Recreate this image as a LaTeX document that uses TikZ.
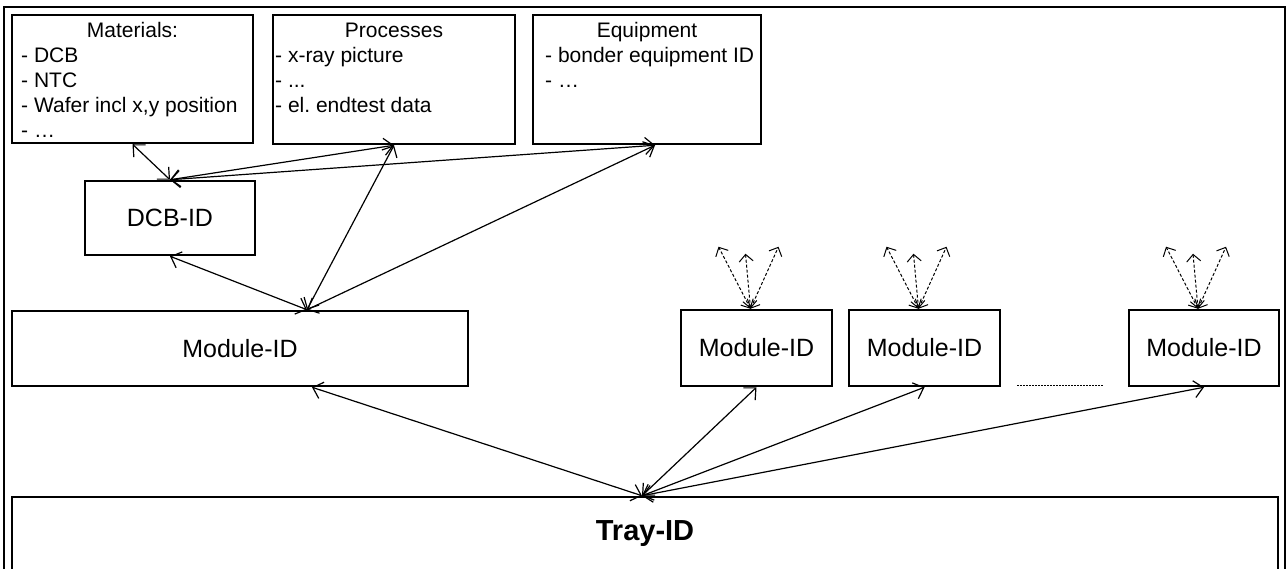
\documentclass[tikz,border=0pt]{standalone}
\usepackage{fontspec}
\setmainfont{Liberation Sans}
\usetikzlibrary{arrows.meta, positioning}
\frenchspacing

\tikzset{
  idbox/.style={draw, line width=2.5pt, inner sep=0pt, font=\fontsize{25}{30}\selectfont},
  infobox/.style={draw, line width=2.5pt, inner sep=0pt},
  infotext/.style={inner sep=0pt, font=\fontsize{21}{25}\selectfont},
  link/.style={{Straight Barb[length=9pt,width=17pt]}-{Straight Barb[length=9pt,width=17pt]}, line width=1.2pt},
  maybelink/.style={{Straight Barb[length=7pt,width=14pt]}-{Straight Barb[length=7pt,width=14pt]}, line width=1pt, dash pattern=on 3pt off 2pt},
}

\begin{document}
\begin{tikzpicture}[x=1pt, y=-1pt]
  \useasboundingbox (0,0) rectangle (1287,569);

  % outer frame
  \draw[line width=1.6pt] (4,640) -- (4,7) -- (1285,7) -- (1285,640);

  % info boxes on top
  \node[infobox, minimum width=241pt, minimum height=128pt] (mat) at (132.5,79) {};
  \node[infobox, minimum width=242pt, minimum height=129pt] (proc) at (394,79.5) {};
  \node[infobox, minimum width=228pt, minimum height=129pt] (equip) at (647,79.5) {};

  \node[infotext, anchor=base] (mat-head) at (132.5,38) {Materials:};
  \foreach \t [count=\i] in {- DCB, - NTC, {- Wafer incl x,y position}, - …}
    \node[infotext, anchor=base west] (mat-\i) at (21,38+25*\i) {\t};

  \node[infotext, anchor=base] (proc-head) at (394,38) {Processes};
  \foreach \t [count=\i] in {- x-ray picture, {- {...}}, - el. endtest data}
    \node[infotext, anchor=base west] (proc-\i) at (275,38+25*\i) {\t};

  \node[infotext, anchor=base] (equip-head) at (647,38) {Equipment};
  \foreach \t [count=\i] in {- bonder equipment ID, - …}
    \node[infotext, anchor=base west] (equip-\i) at (545,38+25*\i) {\t};

  % id boxes
  \node[idbox, minimum width=170pt, minimum height=74pt] (dcb) at (170,218) {DCB-ID};
  \node[idbox, minimum width=456pt, minimum height=75pt] (mod) at (240,348.5) {Module-ID};
  \node[idbox, minimum width=151pt, minimum height=76pt] (mod1) at (756.5,348) {Module-ID};
  \node[idbox, minimum width=151pt, minimum height=76pt, right=14.5pt of mod1] (mod2) {Module-ID};
  \node[idbox, minimum width=150pt, minimum height=76pt] (mod3) at (1204,348) {Module-ID};
  \node[idbox, minimum width=1266pt, minimum height=73pt, font=\bfseries\fontsize{29}{34}\selectfont] (tray) at (645,533.5) {Tray-ID};

  % dotted gap between module boxes
  \draw[line width=1.2pt, dash pattern=on 1.5pt off 1.5pt] ([xshift=16pt,yshift=2pt]mod2.south east) -- ([xshift=-24pt,yshift=2pt]mod3.south west);

  % links to DCB-ID
  \coordinate (equip-in) at ([xshift=8pt]equip.south);
  \draw[link] (mat.south) -- (dcb.north);
  \draw[link] (dcb.north) -- (proc.south);
  \draw[link] (dcb.north) -- (equip-in);

  % links to Module-ID
  \coordinate (mod-top) at ([xshift=67pt]mod.north);
  \draw[link] (dcb.south) -- (mod-top);
  \draw[link] (mod-top) -- (proc.south);
  \draw[link] (mod-top) -- (equip-in);

  % links to Tray-ID
  \coordinate (tray-top) at ([xshift=-3pt]tray.north);
  \coordinate (mod-bot) at ([xshift=72pt]mod.south);
  \draw[link] (tray-top) -- (mod-bot);
  \foreach \m in {mod1,mod2,mod3}
    \draw[link] (tray-top) -- (\m.south);

  % dashed fans above the other modules
  \foreach \m in {mod1,mod2,mod3} {
    \coordinate (\m-in) at ([xshift=-6pt]\m.north);
    \foreach \dx/\dy [count=\k] in {-38/62,-11/55,22/62} {
      \coordinate (\m-out\k) at ([xshift=\dx pt, yshift=\dy pt]\m.north);
      \draw[maybelink] (\m-in) -- (\m-out\k);
    }
  }
\end{tikzpicture}
\end{document}
